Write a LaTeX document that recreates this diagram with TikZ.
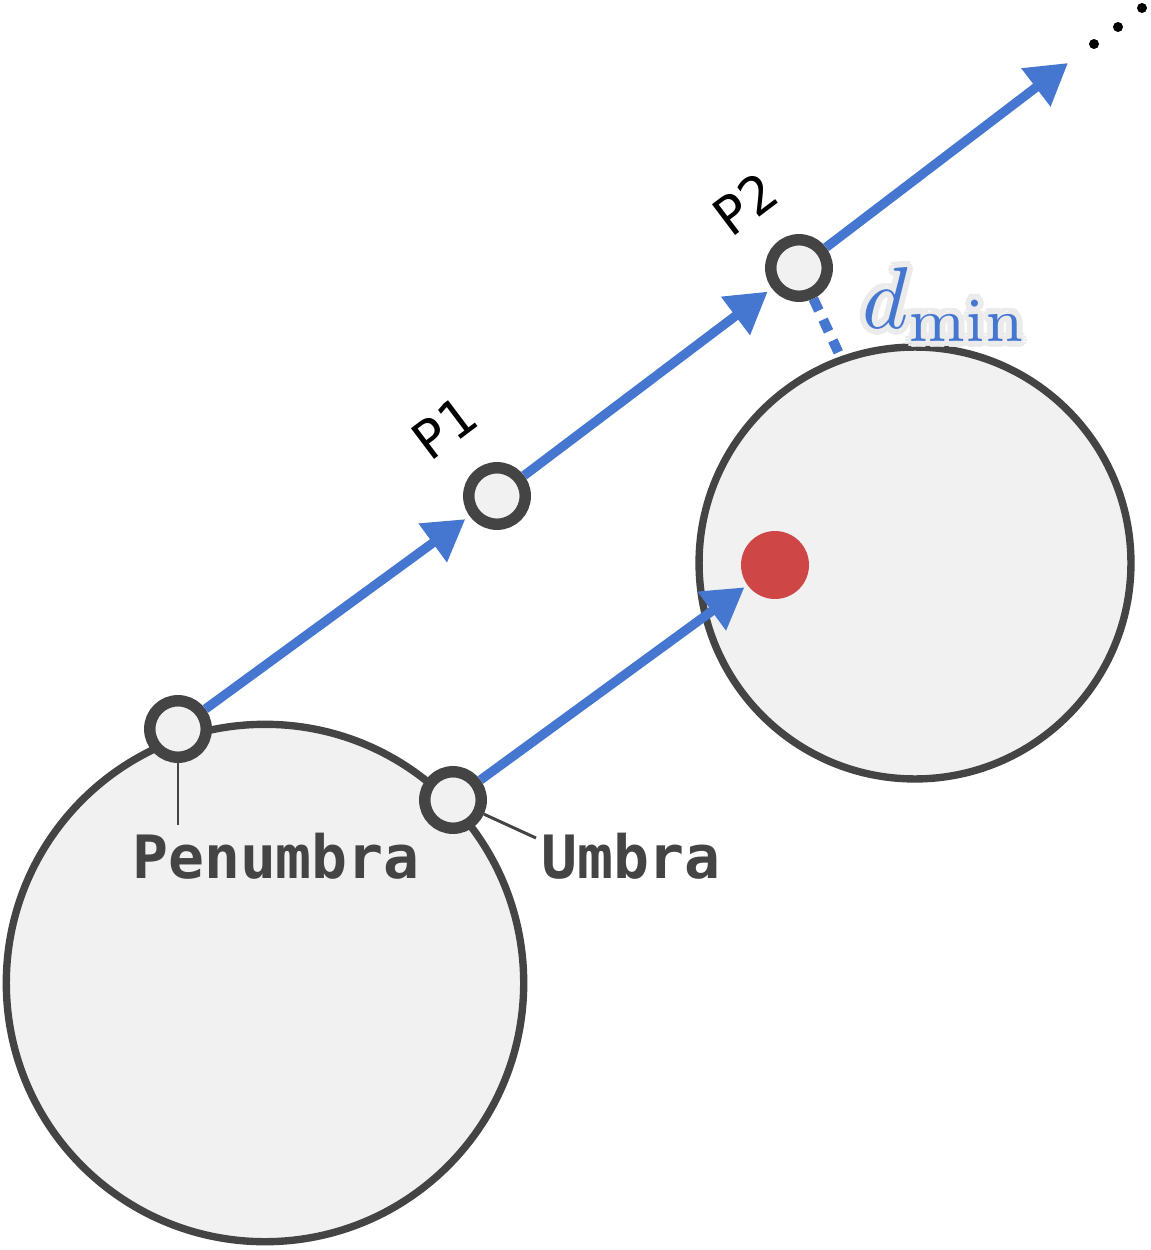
\documentclass[tikz,border=0pt]{standalone}
\usepackage[no-math]{fontspec}
\newfontfamily\monofont{DejaVu Sans Mono}
\usetikzlibrary{arrows.meta}
\definecolor{blu}{HTML}{4677D0}
\definecolor{ink}{HTML}{444444}
\definecolor{fillg}{HTML}{F1F1F1}
\definecolor{reddot}{HTML}{CF4647}
\definecolor{halo}{HTML}{EBEBEB}
\newcommand{\dminlabel}{\scalebox{5.0}{$d_{\mathrm{min}}$}}
\begin{document}
\begin{tikzpicture}[x=0.02cm,y=-0.02cm,
  body/.style={circle,draw=ink,fill=fillg,line width=4.2pt,inner sep=0pt,minimum size=#1},
  marker/.style={circle,draw=ink,fill=fillg,line width=6.5pt,inner sep=0pt,minimum size=1.13cm},
  flow/.style={draw=blu,line width=5.3pt,-{Triangle[length=23pt,width=26pt]},shorten >=#1},
  leader/.style={draw=ink,line width=1.7pt},
  dotline/.style={draw=blu,line width=5.7pt,dash pattern=on 7.4pt off 5.7pt},
  plabel/.style={font=\monofont\fontsize{30}{36}\selectfont,rotate=37,inner sep=0pt},
  tag/.style={font=\monofont\bfseries\fontsize{34}{40}\selectfont,text=ink,inner sep=0pt,anchor=base},
  mathlbl/.style={inner sep=0pt,anchor=base west},
  ell/.style={circle,fill=black,inner sep=0pt,minimum size=0.2cm}
  ]
\useasboundingbox (0,0) rectangle (1150,1250);
% bodies
\node[body=10.35cm] (A) at (265,983) {};
\node[body=8.64cm] (B) at (915,563) {};
\node[circle,fill=reddot,inner sep=0pt,minimum size=1.36cm] (red) at (775,565) {};
% markers
\node[marker] (pen) at (178,729) {};
\node[marker] (umb) at (453,800) {};
\node[marker] (p1) at (497,496) {};
\node[marker] (p2) at (799,268) {};
\coordinate (end) at (1068,63);
\coordinate (dm) at (841,358);
\coordinate (penend) at (178,825);
\coordinate (umbend) at (536,838);
% flows
\draw[flow=3pt] (pen) -- (p1);
\draw[flow=3pt] (p1) -- (p2);
\draw[flow=0pt] (p2) -- (end);
\draw[flow=2pt] (umb) -- (red);
\draw[dotline] (p2) -- (dm);
% leaders
\draw[leader] (pen) -- (penend);
\draw[leader] (umb) -- (umbend);
% labels
\node[tag] (pentxt) at (276,878) {Penumbra};
\node[tag] (umbtxt) at (631,878) {Umbra};
\node[plabel] (p1txt) at (444,428) {P1};
\node[plabel] (p2txt) at (745,204) {P2};
% d_min with halo
\foreach \a in {0,30,...,330}
  \node[mathlbl,text=halo,shift={(\a:6)}] at (862,328) {\dminlabel};
\node[mathlbl,text=blu] (dmin) at (862,328) {\dminlabel};
% ellipsis
\node[ell] (e1) at (1094,44) {};
\node[ell] (e2) at (1118,27) {};
\node[ell] (e3) at (1142,8) {};
\end{tikzpicture}
\end{document}
